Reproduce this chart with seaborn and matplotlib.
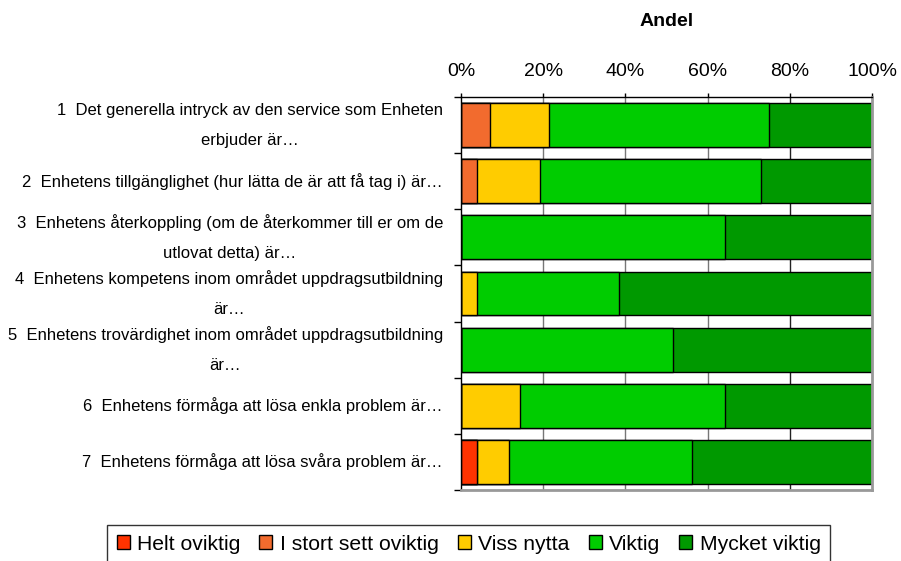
import numpy as np
import pandas as pd
import matplotlib
matplotlib.use('Agg')
import matplotlib.pyplot as plt
import matplotlib.patches as mpatches
from matplotlib.ticker import FixedLocator, PercentFormatter
import seaborn as sns

# Questions (top to bottom) and share per answer category, in percent
questions = [
    "1  Det generella intryck av den service som Enheten\nerbjuder är…",
    "2  Enhetens tillgänglighet (hur lätta de är att få tag i) är…",
    "3  Enhetens återkoppling (om de återkommer till er om de\nutlovat detta) är…",
    "4  Enhetens kompetens inom området uppdragsutbildning\när…",
    "5  Enhetens trovärdighet inom området uppdragsutbildning\när…",
    "6  Enhetens förmåga att lösa enkla problem är…",
    "7  Enhetens förmåga att lösa svåra problem är…",
]
categories = ["Helt oviktig", "I stort sett oviktig", "Viss nytta", "Viktig", "Mycket viktig"]
helt_oviktig = [0.0, 0.0, 0.0, 0.0, 0.0, 0.0, 3.8]
i_stort_sett_oviktig = [7.1, 3.8, 0.0, 0.0, 0.0, 0.0, 0.0]
viss_nytta = [14.3, 15.4, 0.0, 3.8, 0.0, 14.3, 8.0]
viktig = [53.6, 53.9, 64.2, 34.7, 51.7, 50.0, 44.3]
mycket_viktig = [25.0, 26.9, 35.8, 61.5, 48.3, 35.7, 43.9]
colors = ["#FF3300", "#F26B2E", "#FFCC00", "#00CC00", "#009900"]

sns.set_style("white")
plt.rcParams['font.family'] = ['Liberation Sans', 'DejaVu Sans']
plt.rcParams['text.color'] = 'black'
plt.rcParams['axes.labelcolor'] = 'black'
plt.rcParams['xtick.labelcolor'] = 'black'
plt.rcParams['ytick.labelcolor'] = 'black'

df = pd.DataFrame({"Fråga": questions,
                   "Helt oviktig": helt_oviktig,
                   "I stort sett oviktig": i_stort_sett_oviktig,
                   "Viss nytta": viss_nytta,
                   "Viktig": viktig,
                   "Mycket viktig": mycket_viktig})
cum = df[categories].cumsum(axis=1)

fig = plt.figure(figsize=(9.01, 5.61), dpi=100)
ax = fig.add_axes([461 / 901, 1 - 490 / 561, 411 / 901, 393 / 561])

# gridlines behind bars
for v in [20, 40, 60]:
    ax.axvline(v, color="#777777", lw=1, zorder=0)
ax.axvline(80, color="#222222", lw=1, zorder=0)

# stacked bars: draw cumulative totals from the outermost segment inward
for cat, col in reversed(list(zip(categories, colors))):
    sns.barplot(x=cum[cat], y=df["Fråga"], orient="h", color=col, saturation=1,
                edgecolor="black", linewidth=1, width=0.78, ax=ax, zorder=2)

ax.set_xlim(0, 100)
ax.set_ylim(len(questions) - 0.5, -0.5)
ax.xaxis.tick_top()
ax.xaxis.set_label_position("top")
ax.set_xticks([0, 20, 40, 60, 80, 100])
ax.xaxis.set_major_formatter(PercentFormatter(decimals=0))
ax.tick_params(axis="x", top=True, length=3, width=1, color="black",
               labelsize=14, pad=9)
ax.set_xlabel("Andel", fontsize=14, fontweight="bold", labelpad=27)
ax.set_ylabel("")

ax.set_yticks(range(len(questions)))
ax.set_yticklabels(questions, fontsize=12, linespacing=2.25,
                   multialignment="center", va="center")
ax.tick_params(axis="y", which="major", length=0, pad=13)
ax.yaxis.set_minor_locator(FixedLocator(np.arange(-0.5, len(questions), 1.0)))
ax.tick_params(axis="y", which="minor", left=True, length=5, width=1, color="black")

for side in ["top", "left"]:
    ax.spines[side].set_color("black")
    ax.spines[side].set_linewidth(1)
for side in ["right", "bottom"]:
    ax.spines[side].set_color("#999999")
    ax.spines[side].set_linewidth(2)

handles = [mpatches.Patch(facecolor=c, edgecolor="black", label=l)
           for c, l in zip(colors, categories)]
leg = fig.legend(handles=handles, loc="upper left", bbox_to_anchor=(107 / 901, 1 - 525 / 561),
                 ncol=5, fontsize=15.2, frameon=True, fancybox=False,
                 handlelength=0.62, handleheight=0.62, handletextpad=0.35,
                 columnspacing=0.9, borderpad=0.45, borderaxespad=0)
leg.get_frame().set_edgecolor("black")
leg.get_frame().set_linewidth(1)

fig.savefig("out.png", dpi=100)
